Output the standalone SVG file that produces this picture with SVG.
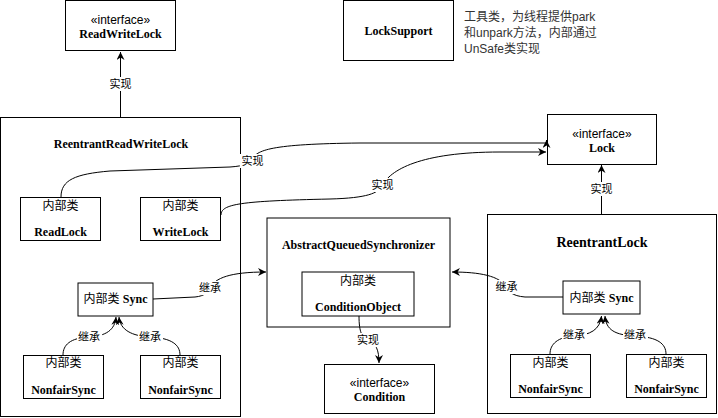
<svg xmlns="http://www.w3.org/2000/svg" width="718" height="418" viewBox="0 0 718 418">
<defs>
<marker id="arr" viewBox="0 0 10 10" refX="10" refY="5" markerWidth="8" markerHeight="8" markerUnits="userSpaceOnUse" orient="auto">
<path d="M0,0 L10,5 L0,10 L3,5 z" fill="#000"/>
</marker>
<style>
.box{fill:#fff;stroke:#000;stroke-width:1}
.ser{font-family:"Liberation Serif","Times New Roman",serif;font-weight:bold;font-size:12px;fill:#000;text-anchor:middle;dominant-baseline:central}
.san{font-family:"Liberation Sans","Noto Sans CJK SC",sans-serif;font-size:12px;fill:#000;text-anchor:middle;dominant-baseline:central}
.mix{font-size:12px;fill:#000;text-anchor:middle;dominant-baseline:central}
.edge{fill:none;stroke:#000;stroke-width:1;marker-end:url(#arr)}
.lbg{fill:#fff;stroke:none}
.lbl{font-family:"Liberation Sans","Noto Sans CJK SC",sans-serif;font-size:11px;fill:#000;text-anchor:middle;dominant-baseline:central}
.note{font-family:"Liberation Sans","Noto Sans CJK SC",sans-serif;font-size:12px;fill:#333}
</style>
</defs>

<g id="ReentrantReadWriteLock">
<rect class="box" x="0.5" y="117.5" width="240" height="299"/>
<text class="ser" x="121" y="144">ReentrantReadWriteLock</text>
</g>
<g id="ReentrantLock">
<rect class="box" x="487.5" y="214.5" width="229" height="199"/>
<text class="ser" x="602" y="242" style="font-size:14px">ReentrantLock</text>
</g>
<g id="ReadWriteLock">
<rect class="box" x="65.5" y="0.5" width="110" height="50"/>
<text class="san" x="120.5" y="20">«interface»</text>
<text class="ser" x="120.5" y="34">ReadWriteLock</text>
</g>
<g id="LockSupport">
<rect class="box" x="343.5" y="0.5" width="110" height="60"/>
<text class="ser" x="398.5" y="31">LockSupport</text>
</g>
<g id="note">
<text class="note" x="464" y="21">工具类，为线程提供park</text>
<text class="note" x="464" y="37">和unpark方法，内部通过</text>
<text class="note" x="464" y="53">UnSafe类实现</text>
</g>
<g id="Lock">
<rect class="box" x="547.5" y="114.5" width="109" height="50"/>
<text class="san" x="602" y="134">«interface»</text>
<text class="ser" x="602" y="147.5">Lock</text>
</g>
<g id="ReadLock">
<rect class="box" x="20.5" y="197.5" width="80" height="43"/>
<text class="san" x="60.5" y="206">内部类</text>
<text class="ser" x="60.5" y="232">ReadLock</text>
</g>
<g id="WriteLock">
<rect class="box" x="140.5" y="197.5" width="80" height="43"/>
<text class="san" x="180.5" y="206">内部类</text>
<text class="ser" x="180.5" y="232">WriteLock</text>
</g>
<g id="SyncLeft">
<rect class="box" x="78" y="283" width="75" height="33"/>
<text class="mix" x="115.5" y="299"><tspan font-family="Liberation Sans,Noto Sans CJK SC,sans-serif">内部类 </tspan><tspan font-family="Liberation Serif,serif" font-weight="bold">Sync</tspan></text>
</g>
<g id="NonfairSyncL1">
<rect class="box" x="23.5" y="355.5" width="80" height="43"/>
<text class="san" x="63.5" y="363">内部类</text>
<text class="ser" x="63.5" y="390">NonfairSync</text>
</g>
<g id="NonfairSyncL2">
<rect class="box" x="140.5" y="355.5" width="80" height="43"/>
<text class="san" x="180.5" y="363">内部类</text>
<text class="ser" x="180.5" y="390">NonfairSync</text>
</g>
<g id="AQS">
<rect class="box" x="267" y="218" width="183" height="109"/>
<text class="ser" x="358.5" y="245">AbstractQueuedSynchronizer</text>
</g>
<g id="ConditionObject">
<rect class="box" x="302" y="272" width="112" height="44"/>
<text class="san" x="358" y="281">内部类</text>
<text class="ser" x="358" y="307">ConditionObject</text>
</g>
<g id="Condition">
<rect class="box" x="324.5" y="364.5" width="110" height="49"/>
<text class="san" x="379.5" y="383">«interface»</text>
<text class="ser" x="379.5" y="397">Condition</text>
</g>
<g id="SyncRight">
<rect class="box" x="563" y="281" width="77" height="33"/>
<text class="mix" x="601.5" y="298"><tspan font-family="Liberation Sans,Noto Sans CJK SC,sans-serif">内部类 </tspan><tspan font-family="Liberation Serif,serif" font-weight="bold">Sync</tspan></text>
</g>
<g id="NonfairSyncR1">
<rect class="box" x="510.5" y="354.5" width="80" height="43"/>
<text class="san" x="550.5" y="363">内部类</text>
<text class="ser" x="550.5" y="389">NonfairSync</text>
</g>
<g id="NonfairSyncR2">
<rect class="box" x="626.5" y="354.5" width="80" height="43"/>
<text class="san" x="666.5" y="363">内部类</text>
<text class="ser" x="666.5" y="389">NonfairSync</text>
</g>

<g id="connectors">
<path class="edge" d="M120.5,117 L120.5,52"/>
<path class="edge" d="M61,197 C61,180 75,174 110,171 L230,167 C245,166 250,163 252,160 C256,150 270,144 360,143 L546.5,143 L546.5,140"/>
<path class="edge" d="M221,215 C221,204 240,201 330,199 C368,198 378,193 382,186 C390,170 420,152 500,152 L546,152"/>
<path class="edge" d="M601.5,214 L601.5,165"/>
<path class="edge" d="M63,355 C63,345 70,338 89,337 C106,336 115,330 116,317"/>
<path class="edge" d="M180,355 C180,345 172,338 150,337 C132,336 120,330 119,317"/>
<path class="edge" d="M153,299 L195,297 C205,296 208,292 210,288 C215,278 230,272 266,272"/>
<path class="edge" d="M359,316 C359,332 362,338 368,340 C376,343 379,350 379,363"/>
<path class="edge" d="M563,297 L525,297 C512,296 508,291 506,287 C500,276 480,272 452,272"/>
<path class="edge" d="M550,354 C550,344 558,337 574,336 C590,335 600,330 601.5,316"/>
<path class="edge" d="M666,354 C666,344 658,337 635,336 C615,335 606,330 605,316"/>

<rect class="lbg" x="108" y="77" width="25" height="14"/><text class="lbl" x="120.5" y="84">实现</text>
<rect class="lbg" x="240" y="154" width="25" height="14"/><text class="lbl" x="252.5" y="161">实现</text>
<rect class="lbg" x="370" y="178" width="25" height="14"/><text class="lbl" x="382.5" y="185">实现</text>
<rect class="lbg" x="589" y="182" width="25" height="14"/><text class="lbl" x="601.5" y="189">实现</text>
<rect class="lbg" x="356" y="333" width="25" height="14"/><text class="lbl" x="368" y="340">实现</text>
<rect class="lbg" x="77" y="330" width="25" height="14"/><text class="lbl" x="89" y="337">继承</text>
<rect class="lbg" x="138" y="330" width="25" height="14"/><text class="lbl" x="150" y="337">继承</text>
<rect class="lbg" x="198" y="281" width="25" height="14"/><text class="lbl" x="210" y="288">继承</text>
<rect class="lbg" x="494" y="280" width="25" height="14"/><text class="lbl" x="506.5" y="287">继承</text>
<rect class="lbg" x="562" y="328" width="25" height="14"/><text class="lbl" x="574" y="335">继承</text>
<rect class="lbg" x="623" y="328" width="25" height="14"/><text class="lbl" x="635" y="335">继承</text>
</g>
</svg>
